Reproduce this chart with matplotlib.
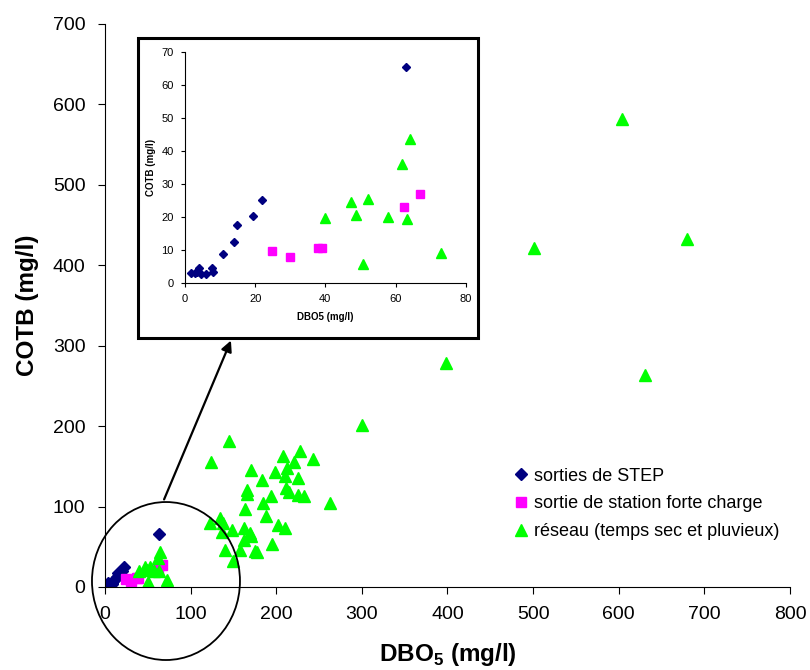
import matplotlib
matplotlib.use("Agg")

import matplotlib.pyplot as plt
from matplotlib.patches import Ellipse, Rectangle, FancyArrowPatch

plt.rcParams["font.family"] = ["Liberation Sans", "DejaVu Sans"]
plt.rcParams["mathtext.fontset"] = "custom"
plt.rcParams["mathtext.rm"] = "Liberation Sans"
plt.rcParams["mathtext.bf"] = "Liberation Sans:bold"

# sorties de STEP
step_x = [1.7, 2.85, 3.4, 4.1, 4.5, 6.0, 7.8, 8.1, 10.9, 14.0, 14.9, 19.4, 21.9, 62.9]
step_y = [3.0, 3.0, 3.3, 4.6, 2.8, 2.8, 4.6, 3.2, 8.7, 12.4, 17.5, 20.2, 25.2, 65.6]

# sortie de station forte charge
fc_x = [24.9, 30.0, 37.9, 39.0, 62.4, 67.1]
fc_y = [9.7, 7.8, 10.7, 10.6, 22.9, 27.0]

# reseau (temps sec et pluvieux)
res_x = [39.9, 47.2, 48.7, 52.3, 50.7, 57.8, 61.8, 64.0, 63.4, 72.9,
         145, 124, 228, 208, 243, 171, 199, 221, 213, 210,
         225, 183, 166, 166, 211, 215, 226, 232, 194, 184,
         263, 163, 188, 134, 123, 138, 148, 137, 162, 169,
         202, 210, 162, 171, 195, 140, 158, 175, 178, 150,
         300, 398, 501, 604, 680, 631]
res_y = [19.6, 24.6, 20.6, 25.4, 5.8, 20.1, 36.0, 43.8, 19.4, 9.0,
         182, 156, 169, 163, 159, 145, 143, 155, 148, 138,
         136, 133, 121, 116, 123, 118, 114, 113, 113, 105,
         105, 97, 88, 86, 79, 79, 71, 68, 73, 67,
         77, 73, 59, 63, 54, 46, 46, 45, 44, 32,
         201, 278, 421, 582, 433, 264]

labels = ["sorties de STEP", "sortie de station forte charge",
          "réseau (temps sec et pluvieux)"]

NAVY = "#000080"
PINK = "#FF00FF"
GREEN = "#00FF00"

fig = plt.figure(figsize=(8.1, 6.7), dpi=100)
ax = fig.add_axes([0.1296, 0.1239, 0.8457, 0.8403])

ax.plot(step_x, step_y, ls="none", marker="D", ms=6.5, color=NAVY, label=labels[0])
ax.plot(fc_x, fc_y, ls="none", marker="s", ms=7, color=PINK, label=labels[1])
ax.plot(res_x, res_y, ls="none", marker="^", ms=8.5, color=GREEN, label=labels[2])

ax.set_xlim(0, 800)
ax.set_ylim(0, 700)
ax.set_xticks(range(0, 801, 100))
ax.set_yticks(range(0, 701, 100))
ax.spines["top"].set_visible(False)
ax.spines["right"].set_visible(False)
ax.tick_params(direction="out", length=5, labelsize=14, pad=9)
ax.set_xlabel(r"DBO$_\mathbf{5}$ (mg/l)", fontsize=17.5, fontweight="bold", labelpad=13)
ax.set_ylabel("COTB (mg/l)", fontsize=17.5, fontweight="bold", labelpad=10)

ax.legend(loc="upper left", bbox_to_anchor=(0.581, 0.228), frameon=False,
          fontsize=13, handletextpad=0.2, labelspacing=0.6,
          handlelength=1.0, borderpad=0)

# inset frame
frame = Rectangle((0.1704, 0.4955), 0.4198, 0.4478, transform=fig.transFigure,
                  facecolor="white", edgecolor="black", lw=2.2, zorder=5)
fig.add_artist(frame)

ins = fig.add_axes([0.2284, 0.578, 0.3465, 0.3439])
ins.set_zorder(6)
ins.patch.set_alpha(0)
ins.plot(step_x, step_y, ls="none", marker="D", ms=4.5, color=NAVY)
ins.plot(fc_x, fc_y, ls="none", marker="s", ms=5.5, color=PINK)
ins.plot(res_x, res_y, ls="none", marker="^", ms=6.5, color=GREEN)
ins.set_xlim(0, 80)
ins.set_ylim(0, 70)
ins.set_xticks(range(0, 81, 20))
ins.set_yticks(range(0, 71, 10))
ins.spines["top"].set_visible(False)
ins.spines["right"].set_visible(False)
ins.tick_params(direction="out", length=3, labelsize=8, pad=5)
ins.set_xlabel("DBO5 (mg/l)", fontsize=7, fontweight="bold", labelpad=6)
ins.set_ylabel("COTB (mg/l)", fontsize=7, fontweight="bold", labelpad=4)

# zoom circle and arrow
circle = Ellipse((0.2049, 0.1328), 0.1827, 0.2358, transform=fig.transFigure,
                 fill=False, edgecolor="black", lw=1.3, zorder=7)
fig.add_artist(circle)
arrow = FancyArrowPatch((163 / 810, 1 - 502 / 670), (232 / 810, 1 - 338 / 670),
                        transform=fig.transFigure, arrowstyle="-|>",
                        mutation_scale=16, lw=1.6, color="black", zorder=7)
fig.add_artist(arrow)

plt.savefig("out.png", dpi=100)
plt.close(fig)
